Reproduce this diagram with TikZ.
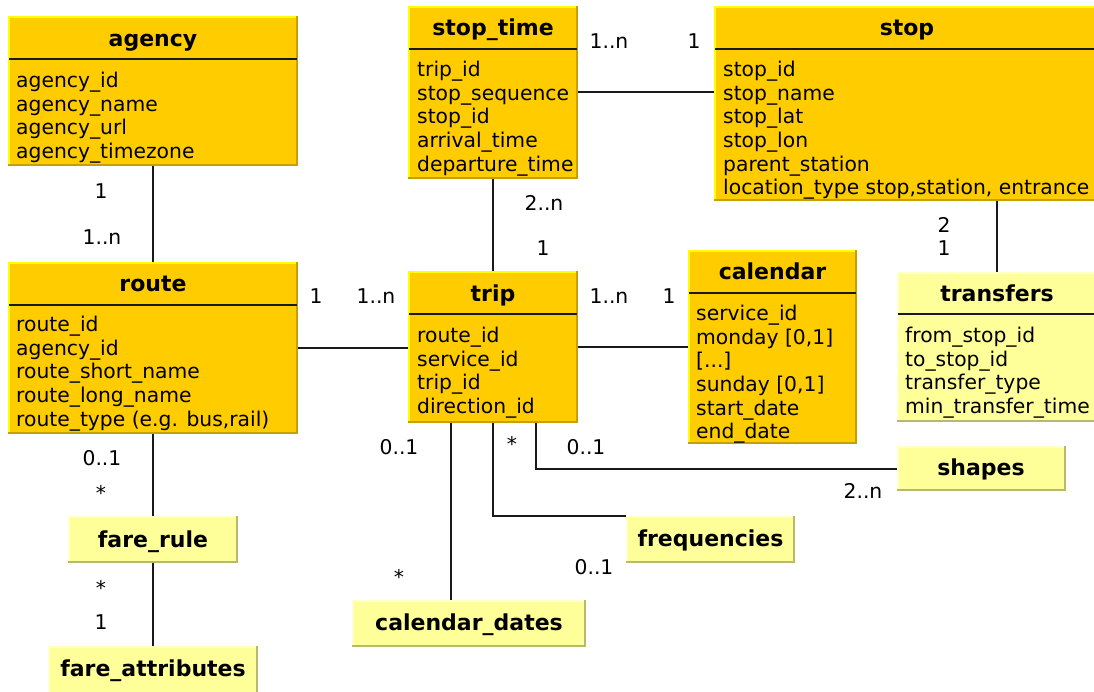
\documentclass[tikz,border=0pt]{standalone}
\usepackage{fontspec}
\setmainfont{DejaVu Sans}
\usetikzlibrary{fit,calc}

\definecolor{gold}{HTML}{FFCC00}
\definecolor{goldhi}{HTML}{FFFF00}
\definecolor{goldsh}{HTML}{C4A000}
\definecolor{pale}{HTML}{FFFF99}
\definecolor{palehi}{HTML}{FFFFCC}
\definecolor{palesh}{HTML}{B8B870}

\newcommand\txtfont{\fontsize{20.3}{23.67}\selectfont}
\newcommand\ttlfont{\fontsize{22}{26}\selectfont\bfseries}

% raised border: light top/left edge, dark bottom/right edge
\newcommand\bevel[3]{%
  \draw[#2, line width=2pt] ([xshift=1pt]#1.south west) -- ([xshift=1pt,yshift=-1pt]#1.north west) -- ([yshift=-1pt]#1.north east);
  \draw[#3, line width=2.4pt] ([yshift=1.2pt]#1.south west) -- ([xshift=-1.2pt,yshift=1.2pt]#1.south east) -- ([xshift=-1.2pt]#1.north east);
}

\tikzset{
  entity/.style={inner sep=0pt, outer sep=0pt, fill=gold},
  lightentity/.style={inner sep=0pt, outer sep=0pt, fill=pale},
  ttl/.style={anchor=base, inner sep=0pt, font=\ttlfont},
  attrs/.style={anchor=north west, inner sep=0pt, align=left, font=\txtfont},
  mult/.style={anchor=base, inner sep=0pt, font=\txtfont},
  sepline/.style={line width=2pt, black!90},
  conn/.style={line width=2pt, black!90},
}

\begin{document}
\begin{tikzpicture}[x=1pt, y=-1pt]
\useasboundingbox (0,0) rectangle (1094,691);

% entity boxes
\node[entity, fit={(8,16) (298,166)}] (agency) {};
\node[entity, fit={(408,5.5) (578,179)}] (stoptime) {};
\node[entity, fit={(714,5.5) (1100,201)}] (stop) {};
\node[entity, fit={(8,262) (298,434)}] (route) {};
\node[entity, fit={(408,271) (578,423)}] (trip) {};
\node[entity, fit={(688,249.5) (857,444)}] (calendar) {};
\node[lightentity, fit={(897,272) (1096,422)}] (transfers) {};
\node[lightentity, fit={(897,446) (1066,491)}] (shapes) {};
\node[lightentity, fit={(626,516) (795,563)}] (frequencies) {};
\node[lightentity, fit={(68,516) (238,563)}] (farerule) {};
\node[lightentity, fit={(352,600) (586,647)}] (calendardates) {};
\node[lightentity, fit={(48,646) (258,695)}] (fareattributes) {};

% connectors
\draw[conn] (agency) -- (route);
\draw[conn] (farerule.north) -- (farerule.north |- route.south);
\draw[conn] (farerule.south) -- (farerule.south |- fareattributes.north);
\draw[conn] (stoptime.south) -- (stoptime.south |- trip.north);
\draw[conn] (stoptime.east) -- (stoptime.east -| stop.west);
\draw[conn] (transfers.north) -- (transfers.north |- stop.south);
\draw[conn] (route.east) -- (route.east -| trip.west);
\draw[conn] (trip.east) -- (trip.east -| calendar.west);
\coordinate (tq1) at ($(trip.south west)!0.25!(trip.south east)$);
\coordinate (tq3) at ($(trip.south west)!0.75!(trip.south east)$);
\draw[conn] (tq1) -- (tq1 |- calendardates.north);
\draw[conn] (trip.south) |- (frequencies.north west);
\draw[conn] (tq3) |- (shapes.west);

% box edges
\foreach \n in {agency,stoptime,stop,route,trip,calendar}{\bevel{\n}{goldhi}{goldsh}}
\foreach \n in {transfers,shapes,frequencies,farerule,calendardates,fareattributes}{\bevel{\n}{palehi}{palesh}}

% title separators
\draw[sepline] (9,59) -- (297,59);
\draw[sepline] (409,48.5) -- (577,48.5);
\draw[sepline] (715,48.5) -- (1094,48.5);
\draw[sepline] (9,304.5) -- (297,304.5);
\draw[sepline] (409,314) -- (577,314);
\draw[sepline] (689,292.5) -- (856,292.5);
\draw[sepline] (898,314) -- (1094,314);

% titles
\node[ttl] (agency-t) at (153,46) {agency};
\node[ttl] (stoptime-t) at (493,35) {stop\_time};
\node[ttl] (stop-t) at (907,35) {stop};
\node[ttl] (route-t) at (153,291) {route};
\node[ttl] (trip-t) at (493,301) {trip};
\node[ttl] (calendar-t) at (772.5,279) {calendar};
\node[ttl] (transfers-t) at (997,301) {transfers};
\node[ttl] (shapes-t) at (981,475) {shapes};
\node[ttl] (frequencies-t) at (710.5,546) {frequencies};
\node[ttl] (farerule-t) at (153,547) {fare\_rule};
\node[ttl] (calendardates-t) at (469,630) {calendar\_dates};
\node[ttl] (fareattributes-t) at (153,676) {fare\_attributes};

% attribute lists
\node[attrs] (agency-a) at (16,70.7) {\strut agency\_id\\agency\_name\\agency\_url\\agency\_timezone};
\node[attrs] (stoptime-a) at (417,59.7) {\strut trip\_id\\stop\_sequence\\stop\_id\\arrival\_time\\departure\_time};
\node[attrs] (stop-a) at (723,59.7) {\strut stop\_id\\stop\_name\\stop\_lat\\stop\_lon\\parent\_station\\location\_type stop,station, entrance};
\node[attrs] (route-a) at (16,314.7) {\strut route\_id\\agency\_id\\route\_short\_name\\route\_long\_name\\route\_type (e.g. bus,rail)};
\node[attrs] (trip-a) at (417,325.7) {\strut route\_id\\service\_id\\trip\_id\\direction\_id};
\node[attrs] (calendar-a) at (696,303.7) {\strut service\_id\\monday [0,1]\\{[...]}\\sunday [0,1]\\start\_date\\end\_date};
\node[attrs] (transfers-a) at (905,325.7) {\strut from\_stop\_id\\to\_stop\_id\\transfer\_type\\min\_transfer\_time};

% multiplicities
\node[mult] (m1) at (101,198.5) {1};
\node[mult] (m2) at (102,244.5) {1..n};
\node[mult] (m3) at (609,48.5) {1..n};
\node[mult] (m4) at (694,48.5) {1};
\node[mult] (m5) at (544,210.5) {2..n};
\node[mult] (m6) at (543,255.5) {1};
\node[mult] (m7) at (944,232) {2};
\node[mult] (m8) at (944,255.5) {1};
\node[mult] (m9) at (316,303.5) {1};
\node[mult] (m10) at (376,303.5) {1..n};
\node[mult] (m11) at (609,303.5) {1..n};
\node[mult] (m12) at (669,303.5) {1};
\node[mult] (m13) at (102,465.5) {0..1};
\node[mult] (m14) at (101,500) {*};
\node[mult] (m15) at (101,595) {*};
\node[mult] (m16) at (101,629.5) {1};
\node[mult] (m17) at (399,454.5) {0..1};
\node[mult] (m18) at (399,584) {*};
\node[mult] (m19) at (512,451) {*};
\node[mult] (m20) at (586,454.5) {0..1};
\node[mult] (m21) at (594,574.5) {0..1};
\node[mult] (m22) at (863,498.5) {2..n};
\end{tikzpicture}
\end{document}
